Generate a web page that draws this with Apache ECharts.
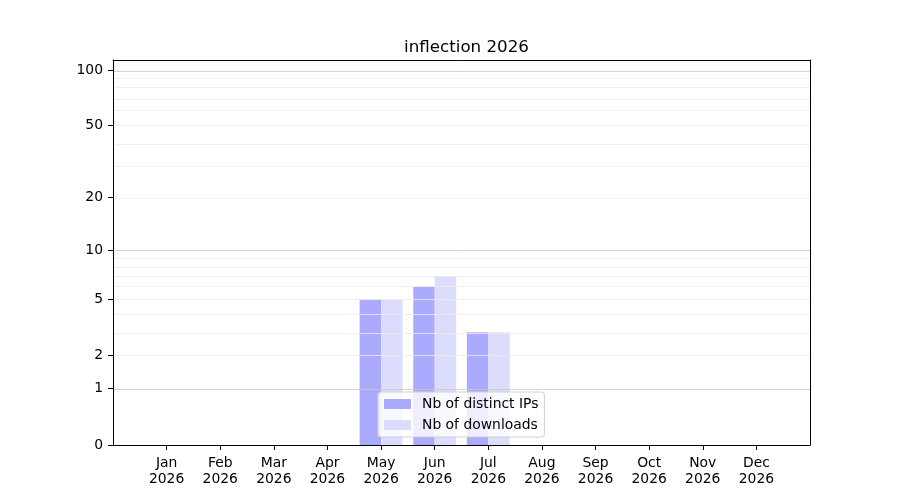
<!DOCTYPE html>
<html>
<head>
    <meta charset="utf-8" />
    <title>inflection 2026</title>
    <script src="https://cdn.jsdelivr.net/npm/echarts@6/dist/echarts.min.js"></script>
    <style>
        html, body { margin: 0; padding: 0; background: #fff; }
        #main { width: 900px; height: 500px; }
    </style>
</head>
<body>
<div id="main"></div>
<script type="text/javascript">
    var months = ['Jan', 'Feb', 'Mar', 'Apr', 'May', 'Jun', 'Jul', 'Aug', 'Sep', 'Oct', 'Nov', 'Dec'];
    var year = '2026';
    var distinctIps = [0, 0, 0, 0, 5, 6, 3, 0, 0, 0, 0, 0];
    var downloads = [0, 0, 0, 0, 5, 7, 3, 0, 0, 0, 0, 0];
    var yTicks = [0, 1, 2, 5, 10, 20, 50, 100];
    var majorGrid = [1, 10, 100];
    var minorGrid = [2, 3, 4, 5, 6, 7, 8, 9, 20, 30, 40, 50, 60, 70, 80, 90];

    // y axis is log10(1 + v), like the symlog look of the original
    function tf(v) { return Math.log10(1 + v); }
    function untf(t) { return Math.round(Math.pow(10, t) - 1); }

    var font = 'DejaVu Sans';
    var unitPx = (900 - 113 - 90) / 13;
    var barW = 0.4 * unitPx;
    var yMax = 2.058;

    var positions = months.map(function (m, i) { return i + 1; });

    var gridLines = [];
    minorGrid.forEach(function (v) {
        gridLines.push({ yAxis: tf(v), lineStyle: { color: '#ebebeb', width: 0.8, type: 'solid' } });
    });
    majorGrid.forEach(function (v) {
        gridLines.push({ yAxis: tf(v), lineStyle: { color: '#c8c8c8', width: 0.8, type: 'solid' } });
    });

    // plain axes used only to close the frame on top and right
    var frameLine = { show: true, onZero: false, lineStyle: { color: '#000', width: 1 } };

    var myChart = echarts.init(document.getElementById('main'));
    var option = {
        animation: false,
        backgroundColor: '#fff',
        textStyle: { fontFamily: font },
        title: {
            text: 'inflection ' + year,
            left: 461.5,
            textAlign: 'center',
            top: 34,
            textStyle: { fontFamily: font, fontSize: 16.7, fontWeight: 'normal', color: '#000' }
        },
        legend: {
            data: ['Nb of distinct IPs', 'Nb of downloads'],
            orient: 'vertical',
            left: 378,
            top: 392,
            icon: 'rect',
            itemWidth: 27,
            itemHeight: 10,
            itemGap: 7,
            padding: [5, 6, 5, 6],
            backgroundColor: 'rgba(255,255,255,0.8)',
            borderColor: '#d0d0d0',
            borderWidth: 1,
            borderRadius: 3,
            textStyle: { fontFamily: font, fontSize: 13.9, color: '#000', padding: [0, 0, 0, 6] }
        },
        grid: {
            left: 113,
            right: 90,
            top: 60,
            bottom: 55,
            show: false
        },
        xAxis: [
            {
                type: 'value',
                min: 0,
                max: 13,
                interval: 1,
                z: 10,
                splitLine: { show: false },
                axisLine: frameLine,
                axisTick: { show: true, length: 5, lineStyle: { color: '#000' }, customValues: positions },
                axisLabel: {
                    show: true,
                    margin: 10,
                    customValues: positions,
                    fontFamily: font,
                    fontSize: 13.9,
                    lineHeight: 16,
                    color: '#000',
                    formatter: function (v) { return months[v - 1] + '\n' + year; }
                }
            },
            {
                type: 'value',
                position: 'top',
                min: 0,
                max: 13,
                z: 10,
                splitLine: { show: false },
                axisLine: frameLine,
                axisTick: { show: false },
                axisLabel: { show: false }
            }
        ],
        yAxis: [
            {
                type: 'value',
                min: 0,
                max: yMax,
                z: 10,
                splitLine: { show: false },
                axisLine: frameLine,
                axisTick: { show: true, length: 5, lineStyle: { color: '#000' }, customValues: yTicks.map(tf) },
                axisLabel: {
                    show: true,
                    margin: 10,
                    customValues: yTicks.map(tf),
                    fontFamily: font,
                    fontSize: 13.9,
                    color: '#000',
                    formatter: function (t) { return String(untf(t)); }
                }
            },
            {
                type: 'value',
                position: 'right',
                min: 0,
                max: yMax,
                z: 10,
                splitLine: { show: false },
                axisLine: frameLine,
                axisTick: { show: false },
                axisLabel: { show: false }
            }
        ],
        series: [
            {
                name: 'grid',
                type: 'line',
                data: [],
                z: 1,
                silent: true,
                markLine: {
                    silent: true,
                    symbol: 'none',
                    label: { show: false },
                    emphasis: { disabled: true },
                    data: gridLines
                }
            },
            {
                name: 'Nb of distinct IPs',
                type: 'bar',
                z: 3,
                barWidth: barW,
                barGap: '-100%',
                itemStyle: { color: '#aaaaff' },
                data: distinctIps.map(function (v, i) { return [positions[i] - 0.2, tf(v)]; })
            },
            {
                name: 'Nb of downloads',
                type: 'bar',
                z: 3,
                barWidth: barW,
                barGap: '-100%',
                itemStyle: { color: '#dcdcfc' },
                data: downloads.map(function (v, i) { return [positions[i] + 0.2, tf(v)]; })
            }
        ]
    };
    myChart.setOption(option);
</script>
</body>
</html>
